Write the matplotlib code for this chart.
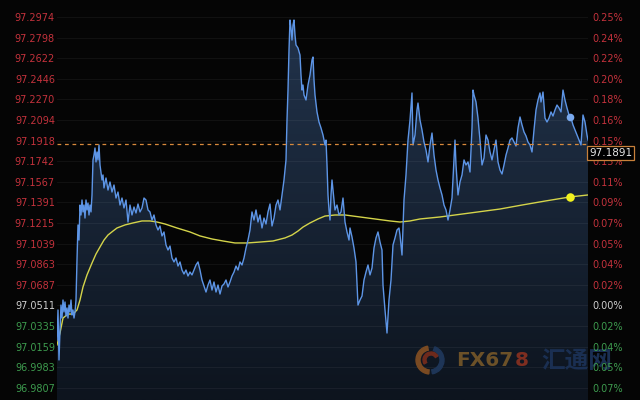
import matplotlib
matplotlib.use('Agg')
import matplotlib.pyplot as plt
import numpy as np
from matplotlib.patches import Wedge, Polygon
from matplotlib.colors import LinearSegmentedColormap

# ---------------- data ----------------
minutes = [0, 1, 2, 3, 4, 5, 6, 7, 8, 9, 10, 11, 12, 13, 14, 15, 16, 17, 18, 19,
           20, 21, 22, 23, 24, 25, 26, 27, 28, 29, 30, 31, 32, 33, 34, 35, 36, 37, 38, 39,
           40, 41, 42, 43, 45, 46, 47, 49, 51, 53, 55, 57, 59, 61, 63, 65, 67, 69, 71,
           73, 75, 77, 79, 81, 83, 85, 87, 89, 91, 93, 95, 97, 99, 101, 103, 105, 107, 109, 111,
           113, 115, 117, 119, 121, 123, 125, 127, 129, 131, 133, 135, 137, 139, 141, 143, 145, 147, 149, 151,
           153, 155, 157, 159, 161, 163, 165, 167, 169, 171, 173, 175, 177, 179, 181, 183, 185, 187, 189, 191,
           193, 195, 197, 199, 201, 203, 205, 207, 209, 211, 213, 215, 217, 219, 221, 223, 225, 227, 229, 230,
           231, 232, 233, 234, 235, 236, 237, 238, 239, 241, 243, 244, 245, 246, 247, 249, 251, 253, 255, 256,
           257, 258, 260, 262, 264, 266, 268, 269, 270, 271, 272, 273, 274, 275, 276, 278, 280, 282, 284, 286,
           288, 290, 292, 293, 295, 297, 299, 301, 303, 305, 307, 309, 311, 313, 315, 317, 319, 321, 323, 325,
           326, 328, 330, 332, 334, 336, 338, 340, 342, 343, 345, 347, 349, 351, 353, 355, 356, 358, 360, 361,
           363, 365, 367, 369, 371, 373, 375, 377, 379, 381, 383, 385, 387, 389, 391, 393, 395, 397, 398, 399,
           401, 403, 405, 407, 409, 411, 413, 415, 416, 417, 419, 421, 423, 425, 427, 429, 431, 433, 435, 437,
           439, 441, 443, 445, 447, 449, 451, 453, 455, 457, 459, 461, 463, 465, 467, 469, 471, 473, 475, 477,
           479, 481, 483, 484, 486, 488, 490, 492, 494, 496, 498, 500, 502, 504, 506, 508, 510, 512, 514, 516,
           518, 520, 522, 524, 526, 528, 530, 531]
price = [97.0215, 97.0472, 97.0045, 97.0301, 97.0514, 97.0403, 97.0557, 97.0455, 97.0540, 97.0420,
         97.0489, 97.0403, 97.0514, 97.0455, 97.0557, 97.0429, 97.0472, 97.0403, 97.0455, 97.0557,
         97.0899, 97.1198, 97.1069, 97.1368, 97.1283, 97.1411, 97.1309, 97.1368, 97.1257, 97.1411,
         97.1326, 97.1385, 97.1283, 97.1368, 97.1309, 97.1454, 97.1753, 97.1795, 97.1855, 97.1736,
         97.1821, 97.1753, 97.1881, 97.1710, 97.1582, 97.1625, 97.1514, 97.1599, 97.1496, 97.1565,
         97.1479, 97.1539, 97.1428, 97.1479, 97.1368, 97.1428, 97.1343, 97.1411, 97.1223, 97.1368,
         97.1283, 97.1351, 97.1300, 97.1377, 97.1309, 97.1343, 97.1428, 97.1411, 97.1326, 97.1309,
         97.1240, 97.1283, 97.1198, 97.1155, 97.1189, 97.1104, 97.1138, 97.1027, 97.0984, 97.1018,
         97.0916, 97.0882, 97.0916, 97.0847, 97.0882, 97.0813, 97.0779, 97.0813, 97.0762, 97.0796,
         97.0771, 97.0813, 97.0856, 97.0882, 97.0813, 97.0728, 97.0677, 97.0625, 97.0685, 97.0728,
         97.0642, 97.0711, 97.0625, 97.0685, 97.0608, 97.0677, 97.0694, 97.0728, 97.0668, 97.0711,
         97.0762, 97.0796, 97.0847, 97.0813, 97.0882, 97.0856, 97.0916, 97.1001, 97.1069, 97.1155,
         97.1309, 97.1240, 97.1326, 97.1223, 97.1283, 97.1172, 97.1257, 97.1206, 97.1309, 97.1377,
         97.1189, 97.1257, 97.1368, 97.1411, 97.1326, 97.1454, 97.1582, 97.1753, 97.2094, 97.2350,
         97.2692, 97.2948, 97.2880, 97.2777, 97.2906, 97.2948, 97.2820, 97.2735, 97.2709, 97.2649,
         97.2479, 97.2350, 97.2393, 97.2308, 97.2265, 97.2393, 97.2479, 97.2607, 97.2632, 97.2436,
         97.2308, 97.2163, 97.2077, 97.2026, 97.1966, 97.1881, 97.1923, 97.1710, 97.1454, 97.1326,
         97.1240, 97.1454, 97.1582, 97.1496, 97.1326, 97.1368, 97.1283, 97.1309, 97.1428, 97.1223,
         97.1138, 97.1069, 97.1172, 97.1095, 97.1001, 97.0882, 97.0514, 97.0557, 97.0591, 97.0728,
         97.0796, 97.0856, 97.0771, 97.0830, 97.1001, 97.1087, 97.1138, 97.1052, 97.0984, 97.0685,
         97.0472, 97.0275, 97.0557, 97.0728, 97.1027, 97.1087, 97.1155, 97.1172, 97.1112, 97.0941,
         97.1411, 97.1625, 97.1923, 97.2094, 97.2325, 97.1881, 97.1966, 97.2180, 97.2239, 97.2094,
         97.2009, 97.1906, 97.1838, 97.1736, 97.1881, 97.1983, 97.1795, 97.1667, 97.1582, 97.1514,
         97.1454, 97.1368, 97.1326, 97.1240, 97.1326, 97.1428, 97.1753, 97.1923, 97.1710, 97.1454,
         97.1565, 97.1625, 97.1753, 97.1710, 97.1736, 97.1650, 97.2026, 97.2350, 97.2308, 97.2248,
         97.2111, 97.1923, 97.1710, 97.1770, 97.1966, 97.1923, 97.1821, 97.1753, 97.1838, 97.1923,
         97.1736, 97.1667, 97.1633, 97.1710, 97.1795, 97.1855, 97.1923, 97.1941, 97.1906, 97.1872,
         97.2026, 97.2120, 97.2052, 97.1992, 97.1958, 97.1906, 97.1881, 97.1821, 97.2009, 97.2180,
         97.2265, 97.2325, 97.2248, 97.2333, 97.2111, 97.2077, 97.2111, 97.2163, 97.2128, 97.2180,
         97.2222, 97.2197, 97.2163, 97.2350, 97.2265, 97.2197, 97.2137, 97.2111, 97.2052, 97.2009,
         97.1966, 97.1923, 97.1881, 97.2137, 97.2077, 97.1966, 97.1923]

ma_minutes = [0, 3, 6, 11, 16, 20, 23, 26, 30, 35, 39, 43, 47, 51, 56, 60, 68, 76, 85, 93,
              100, 108, 120, 133, 143, 155, 166, 178, 190, 203, 216, 228, 235, 241, 246, 253, 261, 268, 278, 288,
              303, 318, 333, 343, 353, 363, 383, 398, 413, 428, 443, 465, 488, 513, 531]
ma_price = [97.0173, 97.0275, 97.0403, 97.0437, 97.0437, 97.0472, 97.0557, 97.0668, 97.0771, 97.0873,
            97.0950, 97.1010, 97.1069, 97.1112, 97.1146, 97.1172, 97.1198, 97.1215, 97.1232, 97.1232,
            97.1223, 97.1206, 97.1172, 97.1138, 97.1104, 97.1078, 97.1061, 97.1044, 97.1044, 97.1052,
            97.1061, 97.1087, 97.1112, 97.1146, 97.1180, 97.1215, 97.1249, 97.1274, 97.1283, 97.1283,
            97.1266, 97.1249, 97.1232, 97.1223, 97.1232, 97.1249, 97.1266, 97.1283, 97.1300, 97.1317,
            97.1334, 97.1368, 97.1402, 97.1437, 97.1454]

price_ticks = [97.2974, 97.2798, 97.2622, 97.2446, 97.2270, 97.2094, 97.1918, 97.1742, 97.1567,
               97.1391, 97.1215, 97.1039, 97.0863, 97.0687, 97.0511, 97.0335, 97.0159, 96.9983, 96.9807]
price_tick_labels = ['97.2974', '97.2798', '97.2622', '97.2446', '97.2270', '97.2094', '97.1918',
                     '97.1742', '97.1567', '97.1391', '97.1215', '97.1039', '97.0863', '97.0687',
                     '97.0511', '97.0335', '97.0159', '96.9983', '96.9807']
pct_tick_labels = ['0.25%', '0.24%', '0.22%', '0.20%', '0.18%', '0.16%', '0.15%', '0.13%', '0.11%',
                   '0.09%', '0.07%', '0.05%', '0.04%', '0.02%', '0.00%', '0.02%', '0.04%', '0.05%', '0.07%']
prev_close = 97.0511
last_price = 97.1891
last_label = '97.1891'
marker_minute = 513
marker_price = 97.2120
marker_ma = 97.1437

# ---------------- style ----------------
BG = '#050505'
RED = '#c4323c'
GREEN = '#3d9b4e'
WHITE = '#cfcfcf'

def label_color(v):
    if abs(v - prev_close) < 1e-6:
        return WHITE
    return RED if v > prev_close else GREEN

fig = plt.figure(figsize=(6.4, 4.0), dpi=100, facecolor=BG)
ax = fig.add_axes([57 / 640, 0, 531 / 640, 1], zorder=0)
ax.set_facecolor(BG)
ylo, yhi = 96.9703, 97.3119
ax.set_xlim(0, 531)
ax.set_ylim(ylo, yhi)
for s in ax.spines.values():
    s.set_visible(False)
ax.set_xticks([])

# gradient area under the price line
cmap = LinearSegmentedColormap.from_list('fill', ['#0d141e', '#23354e'])
grad = np.linspace(1, 0, 256).reshape(-1, 1)
im = ax.imshow(grad, cmap=cmap, aspect='auto', extent=[0, 531, ylo, yhi],
               origin='upper', zorder=1, vmin=0, vmax=1)
verts = [(minutes[0], ylo)] + list(zip(minutes, price)) + [(minutes[-1], ylo)]
clip = Polygon(verts, closed=True, facecolor='none', edgecolor='none', transform=ax.transData)
ax.add_patch(clip)
im.set_clip_path(clip)

for v in price_ticks:
    ax.axhline(v, color='#ffffff', alpha=0.06, lw=0.6, zorder=1.5)

ax.plot(ma_minutes, ma_price, color='#d4d44a', lw=1.0, zorder=3)
ax.plot(minutes, price, color='#5d95e6', lw=1.0, zorder=4)
ax.axhline(last_price, color='#d8893c', lw=0.9, ls=(0, (3, 3)), zorder=5)
ax.scatter([marker_minute], [marker_price], s=30, color='#79a9ee', zorder=6, linewidths=0)
ax.scatter([marker_minute], [marker_ma], s=38, color='#f2f21e', zorder=6, linewidths=0)

ax.set_yticks(price_ticks)
ax.set_yticklabels(price_tick_labels)
ax.tick_params(axis='y', length=0, pad=1.5, labelsize=7)
for lab, v in zip(ax.get_yticklabels(), price_ticks):
    lab.set_color(label_color(v))

# watermark layer (below right-hand labels)
wm = fig.add_axes([0, 0, 1, 1], zorder=0.5)
wm.set_xlim(0, 640)
wm.set_ylim(400, 0)
wm.axis('off')
wm.patch.set_alpha(0)
wm.add_patch(Wedge((430, 360), 14, -70, 80, width=4, color='#1e3557'))
wm.add_patch(Wedge((430, 360), 14, 95, 260, width=4, color='#7a4a22'))
wm.add_patch(Wedge((431, 360), 8, 150, 330, width=3, color='#6e2a1c'))
t1 = wm.text(456, 360, 'FX67', color='#6c5128', fontsize=14.5, fontweight='bold',
             family='DejaVu Sans', va='center', ha='left')
fig.canvas.draw()
bb = t1.get_window_extent()
x8 = bb.x1 + 1  # pixel position right after "FX67"
wm.text(x8, 360, '8', color='#7e2e20', fontsize=14.5, fontweight='bold',
        family='DejaVu Sans', va='center', ha='left')
wm.text(541, 361, '汇通网', color='#1a2f52', fontsize=17, fontweight='bold',
        family=['Noto Sans CJK SC', 'DejaVu Sans'], va='center', ha='left')

# right percent axis
ax2 = ax.twinx()
ax2.set_zorder(1)
ax2.patch.set_visible(False)
ax2.set_ylim(ylo, yhi)
for s in ax2.spines.values():
    s.set_visible(False)
ax2.set_yticks(price_ticks)
ax2.set_yticklabels(pct_tick_labels)
ax2.tick_params(axis='y', length=0, pad=3.5, labelsize=7)
for lab, v in zip(ax2.get_yticklabels(), price_ticks):
    lab.set_color(label_color(v))

# last price box
ov = fig.add_axes([0, 0, 1, 1], zorder=2)
ov.set_xlim(0, 640)
ov.set_ylim(400, 0)
ov.axis('off')
ov.patch.set_alpha(0)
ov.text(589, 153, last_label, color='#e6e6e6', fontsize=7.5, va='center', ha='left',
        family='DejaVu Sans',
        bbox=dict(boxstyle='square,pad=0.2', facecolor='#000000', edgecolor='#c8803a', lw=0.9))

fig.savefig('out.png', dpi=100, facecolor=BG)
